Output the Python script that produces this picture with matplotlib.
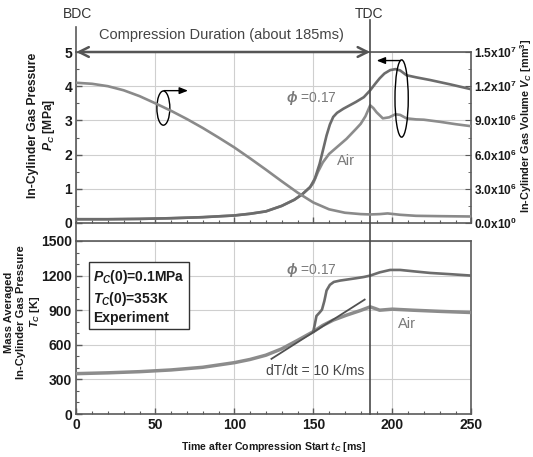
import matplotlib
matplotlib.use('Agg')
import matplotlib.pyplot as plt
import matplotlib.transforms as mtransforms
from matplotlib import font_manager
from matplotlib.lines import Line2D
from matplotlib.patches import Ellipse
from matplotlib.ticker import MultipleLocator, FuncFormatter

# ---- data ----
t_p_air = [0, 20, 40, 60, 80, 100, 110, 120, 130, 138, 143, 148, 150, 153, 156, 160, 165,
           171, 177, 180, 183, 186, 188, 190, 194, 198, 202, 205, 209, 215, 220, 230, 240, 250]
p_air = [0.11, 0.11, 0.12, 0.14, 0.17, 0.22, 0.27, 0.34, 0.50, 0.68, 0.84, 1.05, 1.17, 1.50,
         1.77, 2.02, 2.22, 2.46, 2.75, 2.90, 3.12, 3.44, 3.36, 3.24, 3.06, 3.09, 3.18, 3.16,
         3.06, 3.03, 3.02, 2.96, 2.89, 2.83]

t_p_phi = [0, 20, 40, 60, 80, 100, 110, 120, 130, 138, 143, 148, 151, 154, 156.5, 158.4, 160.5,
           162.6, 165, 169, 173, 177, 182, 186, 189, 192, 195, 198.6, 202, 205, 209, 215, 224,
           237, 250]
p_phi = [0.11, 0.11, 0.12, 0.14, 0.17, 0.22, 0.27, 0.34, 0.50, 0.68, 0.84, 1.05, 1.30, 1.73,
         2.20, 2.56, 2.88, 3.10, 3.22, 3.34, 3.44, 3.54, 3.68, 3.88, 4.06, 4.23, 4.37, 4.47,
         4.50, 4.46, 4.32, 4.26, 4.18, 4.05, 3.91]

t_vol = [0, 10, 20, 30, 40, 50, 60, 70, 80, 90, 100, 110, 120, 130, 140, 150, 160, 170, 180,
         186, 192, 197, 205, 215, 230, 250]
vol = [1.230e7, 1.221e7, 1.200e7, 1.164e7, 1.113e7, 1.050e7, 9.84e6, 9.12e6, 8.34e6, 7.50e6,
       6.63e6, 5.67e6, 4.68e6, 3.66e6, 2.67e6, 1.80e6, 1.20e6, 0.90e6, 0.78e6, 0.75e6, 0.78e6,
       0.84e6, 0.72e6, 0.63e6, 0.60e6, 0.57e6]

t_T_air = [0, 20, 40, 60, 80, 100, 110, 120, 130, 140, 150, 156, 162.6, 171, 180, 186, 189,
           192, 200, 213, 230, 250]
T_air = [350, 357, 367, 382, 405, 445, 473, 510, 565, 638, 714, 768, 814, 857, 898, 929, 915,
         900, 909, 900, 890, 880]

t_T_phi = [150, 151, 152, 154, 155.5, 157, 158.4, 160.5, 163, 167, 172, 177, 182, 186, 192,
           198.6, 205, 215, 224, 237, 250]
T_phi = [714, 780, 850, 880, 905, 980, 1071, 1120, 1145, 1157, 1167, 1177, 1188, 1200, 1228,
         1249, 1249, 1235, 1223, 1212, 1200]

t_tangent = [123.5, 182.5]
T_tangent = [478, 992]

T_TDC = 186

C = {
    'phi': '#6c6c6c', 'air': '#8c8c8c', 'vol': '#8a8a8a', 'spine': '#5a5a5a',
    'grid': '#cfcfcf', 'text': '#1a1a1a', 'note': '#454545', 'label': '#7a7a7a',
}


def has_font(name):
    try:
        font_manager.findfont(font_manager.FontProperties(family=name), fallback_to_default=False)
        return True
    except Exception:
        return False


# the reference is squeezed horizontally, a narrow face gets closest
if has_font('Liberation Sans Narrow'):
    FACE, K = 'Liberation Sans Narrow', 1.1
else:
    FACE, K = 'Liberation Sans', 1.0

plt.rcParams['font.family'] = [FACE, 'DejaVu Sans']
plt.rcParams['mathtext.fontset'] = 'custom'
plt.rcParams['mathtext.rm'] = 'Liberation Sans:bold'
plt.rcParams['mathtext.it'] = 'Liberation Sans:italic:bold'
plt.rcParams['mathtext.bf'] = 'Liberation Sans:bold'

W, H = 533, 457
fig = plt.figure(figsize=(W / 100, H / 100), dpi=100)
fig.patch.set_facecolor('white')

x0, x1 = 76.3, 471.3
ax1 = fig.add_axes([x0 / W, 1 - 223 / H, (x1 - x0) / W, 171 / H])
ax2 = fig.add_axes([x0 / W, 1 - 414 / H, (x1 - x0) / W, 173 / H])
ax1v = ax1.twinx()

tick_fs = 10 * K


def style_axes(ax):
    for s in ax.spines.values():
        s.set_color(C['spine'])
        s.set_linewidth(1.2)
    ax.tick_params(which='both', direction='in', color=C['spine'], labelcolor=C['text'],
                   labelsize=tick_fs, pad=3)
    ax.tick_params(which='major', length=4, width=1)
    ax.tick_params(which='minor', length=2.5, width=0.8)
    for lab in ax.get_xticklabels() + ax.get_yticklabels():
        lab.set_fontweight('bold')
    ax.grid(True, which='major', color=C['grid'], linewidth=0.8)
    ax.set_axisbelow(True)
    ax.set_xlim(0, 250)
    ax.xaxis.set_major_locator(MultipleLocator(50))
    ax.xaxis.set_minor_locator(MultipleLocator(10))


# ---- top: pressure + volume ----
style_axes(ax1)
ax1.set_ylim(0, 5)
ax1.yaxis.set_major_locator(MultipleLocator(1))
ax1.yaxis.set_minor_locator(MultipleLocator(0.5))
ax1.tick_params(labelbottom=False)
ax1.plot(t_p_air, p_air, color=C['air'], lw=1.9, zorder=3)
ax1.plot(t_p_phi, p_phi, color=C['phi'], lw=1.9, zorder=3)

ax1v.set_ylim(0, 1.5e7)
ax1v.yaxis.set_major_locator(MultipleLocator(3e6))
ax1v.yaxis.set_minor_locator(MultipleLocator(1.5e6))
for s in ax1v.spines.values():
    s.set_visible(False)
ax1v.tick_params(which='both', direction='in', color=C['spine'], labelcolor=C['text'],
                 labelsize=8.6 * K, pad=2)
ax1v.tick_params(which='major', length=4)
ax1v.tick_params(which='minor', length=2.5)


def sci_fmt(v, pos):
    if v == 0:
        return r'0.0x10$^{0}$'
    e = len(str(int(round(v)))) - 1
    return r'%.1fx10$^{%d}$' % (v / 10 ** e, e)


ax1v.yaxis.set_major_formatter(FuncFormatter(sci_fmt))
for lab in ax1v.get_yticklabels():
    lab.set_fontweight('bold')
ax1v.plot(t_vol, vol, color=C['vol'], lw=1.9, zorder=3)

# compression duration arrow
ax1.annotate('', xy=(0, 5), xytext=(T_TDC, 5), annotation_clip=False,
             arrowprops=dict(arrowstyle='<->,head_length=0.7,head_width=0.35',
                             color='#555555', lw=1.8, shrinkA=0, shrinkB=0))
ax1.text(14.5, 5.5, 'Compression Duration (about 185ms)', fontsize=10.5 * K,
         color=C['note'], ha='left', va='center')

# ellipses with arrows pointing at their axis
ax1.add_patch(Ellipse((55.1, 3.36), 8.2, 1.0, fill=False, ec='black', lw=1, zorder=5))
ax1.annotate('', xy=(70.7, 3.87), xytext=(55.5, 3.87),
             arrowprops=dict(arrowstyle='-|>,head_length=0.5,head_width=0.2',
                             color='black', lw=1, shrinkA=0, shrinkB=0))
ax1.add_patch(Ellipse((205.9, 3.64), 8.4, 2.26, fill=False, ec='black', lw=1, zorder=5))
ax1.annotate('', xy=(190.1, 4.75), xytext=(205.2, 4.75),
             arrowprops=dict(arrowstyle='-|>,head_length=0.5,head_width=0.2',
                             color='black', lw=1, shrinkA=0, shrinkB=0))

ax1.text(148.5, 3.66, r'$\phi$ =0.17', fontsize=10 * K, color=C['label'], ha='center', va='center')
ax1.text(170.7, 1.81, 'Air', fontsize=10.5 * K, color=C['label'], ha='center', va='center')

# ---- bottom: temperature ----
style_axes(ax2)
ax2.set_ylim(0, 1500)
ax2.yaxis.set_major_locator(MultipleLocator(300))
ax2.yaxis.set_minor_locator(MultipleLocator(100))
ax2.plot(t_T_air, T_air, color=C['air'], lw=2.5, zorder=3)
ax2.plot(t_T_phi, T_phi, color=C['phi'], lw=1.9, zorder=3)
ax2.plot(t_tangent, T_tangent, color='#505050', lw=1.3, zorder=4)

ax2.text(209.6, 780, 'Air', fontsize=10.5 * K, color=C['label'], ha='center', va='center')
ax2.text(148.5, 1251, r'$\phi$ =0.17', fontsize=10 * K, color=C['label'], ha='center', va='center')
ax2.text(151, 375, 'dT/dt = 10 K/ms', fontsize=10 * K, color=C['note'], ha='center', va='center')

ax2.text(0.043, 0.68, '$P_C(0)$=0.1MPa\n$T_C(0)$=353K\nExperiment', transform=ax2.transAxes,
         fontsize=10 * K, fontweight='bold', color=C['text'], ha='left', va='center',
         linespacing=1.3,
         bbox=dict(boxstyle='square,pad=0.3', fc='white', ec='#333333', lw=1))

# ---- TDC line, BDC/TDC marks, joined left spine ----
tdc_tr = mtransforms.blended_transform_factory(ax2.transData, fig.transFigure)
ax2.plot([T_TDC, T_TDC], [1 - 414 / H, 1 - 20 / H], transform=tdc_tr, color='#4a4a4a',
         lw=1.2, clip_on=False, zorder=6)
fig.add_artist(Line2D([x0 / W, x0 / W], [1 - 241 / H, 1 - 223 / H], color=C['spine'], lw=1.2))
fig.add_artist(Line2D([x0 / W, x0 / W], [1 - 52 / H, 1 - 27 / H], color=C['spine'], lw=1.2))

fig.text(77 / W, 1 - 14 / H, 'BDC', fontsize=10 * K, color='#333333', ha='center', va='center')
fig.text(369 / W, 1 - 14 / H, 'TDC', fontsize=10 * K, color='#333333', ha='center', va='center')

# ---- axis titles ----
fig.text(42 / W, 1 - 125 / H, 'In-Cylinder Gas Pressure\n$P_C$ [MPa]', rotation=90,
         family='Liberation Sans', fontsize=8.7, fontweight='bold', color=C['text'],
         ha='center', va='center', multialignment='center', linespacing=1.1)
fig.text(23 / W, 1 - 312 / H, 'Mass Averaged\nIn-Cylinder Gas Pressure\n$T_C$ [K]', rotation=90,
         family='Liberation Sans', fontsize=8, fontweight='bold', color=C['text'],
         ha='center', va='center', multialignment='center', linespacing=1.25)
fig.text(526 / W, 1 - 126 / H, 'In-Cylinder Gas Volume $V_C$ [mm$^3$]', rotation=90,
         family='Liberation Sans', fontsize=7.8, fontweight='bold', color=C['text'],
         ha='center', va='center')
fig.text(273.8 / W, 1 - 447 / H, 'Time after Compression Start $t_C$ [ms]',
         fontsize=7.6 * K, fontweight='bold', color=C['text'], ha='center', va='center')

fig.savefig('out.png', dpi=100, facecolor='white')
